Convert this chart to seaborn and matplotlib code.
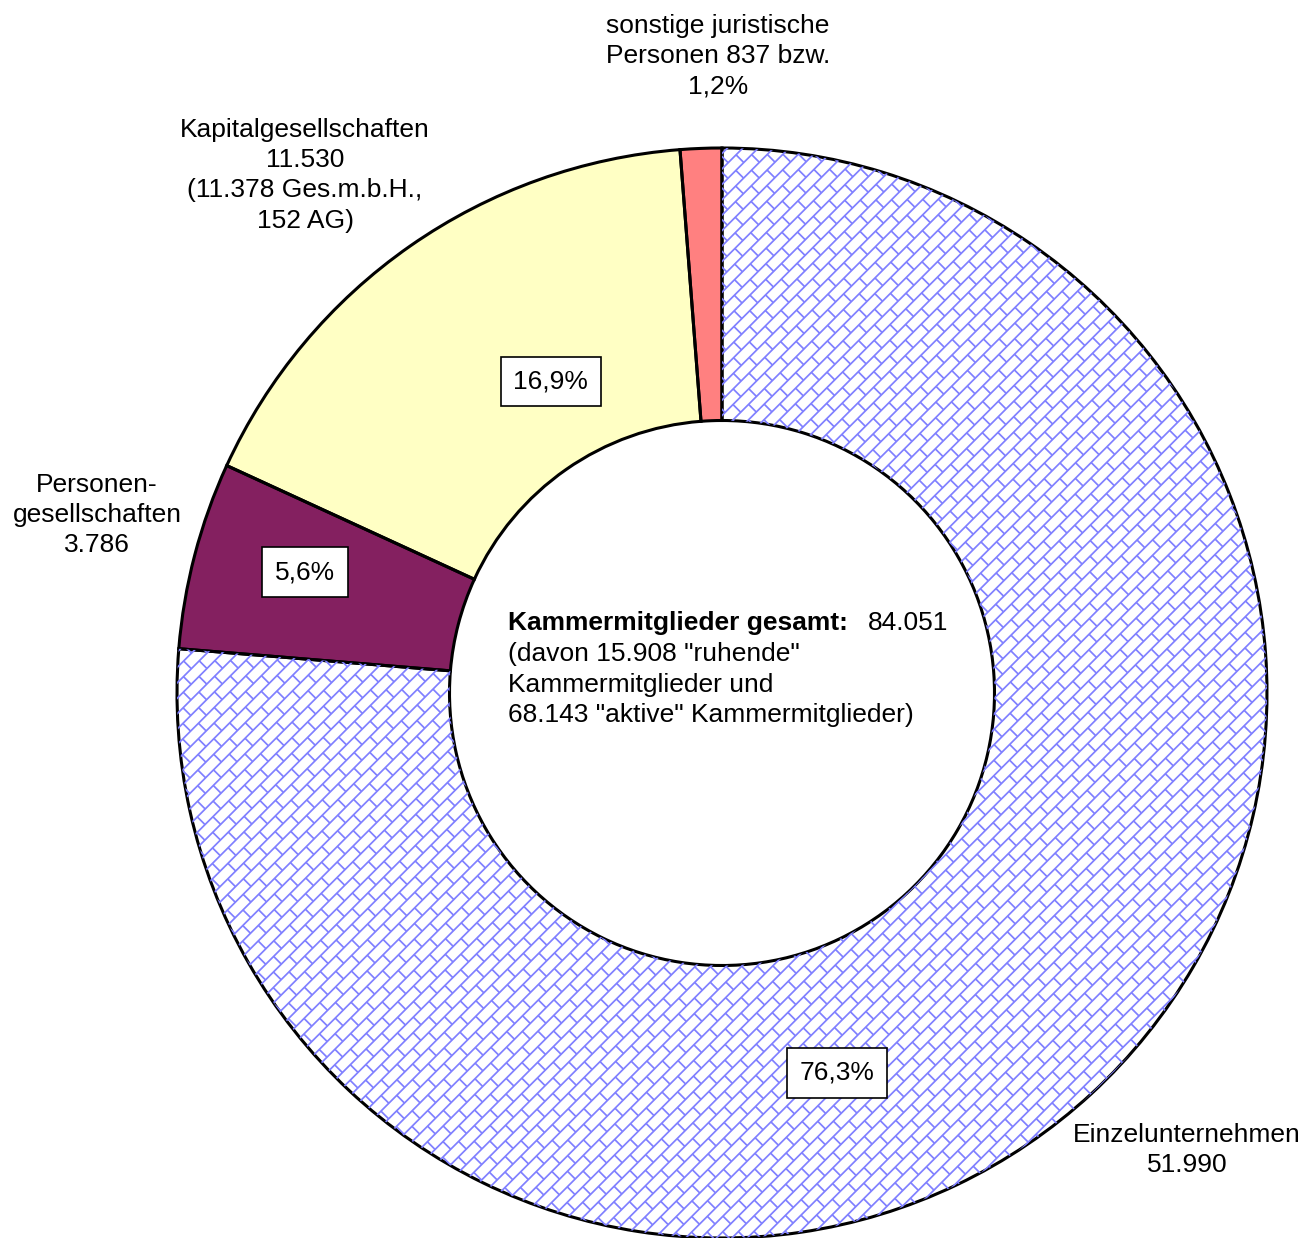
import numpy as np
import matplotlib
matplotlib.use("Agg")
import matplotlib.pyplot as plt
import seaborn as sns
from matplotlib.collections import LineCollection

# data
categories = ["Einzelunternehmen", "Personengesellschaften", "Kapitalgesellschaften", "sonstige juristische Personen"]
members = [51990, 3786, 11530, 837]
pct_labels = ["76,3%", "5,6%", "16,9%", None]
outer_labels = [
    "Einzelunternehmen\n51.990",
    "Personen-\ngesellschaften\n3.786",
    "Kapitalgesellschaften\n11.530\n(11.378 Ges.m.b.H.,\n152 AG)",
    "sonstige juristische\nPersonen 837 bzw.\n1,2%",
]
total_label = "84.051"
center_lines = '(davon 15.908 "ruhende"\nKammermitglieder und\n68.143 "aktive" Kammermitglieder)'

colors = ["white", "#842060", "#FFFFC4", "#FF8080"]

# label positions (in units of the outer radius)
pct_pos = [(0.211, -0.697), (-0.765, 0.222), (-0.314, 0.571), None]
outer_pos = [(0.853, -0.839), (-1.147, 0.327), (-0.765, 0.950), (-0.007, 1.169)]

sns.set_theme(style="white")
plt.rcParams["font.family"] = ["Liberation Sans", "DejaVu Sans"]
plt.rcParams["text.color"] = "black"

fig = plt.figure(figsize=(13.08, 12.38), dpi=100)
ax = fig.add_axes([0, 0, 1, 1])

wedges, _ = ax.pie(members, startangle=90, counterclock=False, colors=colors,
                   radius=1.0, wedgeprops=dict(width=0.5, linewidth=0))

# diagonal brick texture for the Einzelunternehmen wedge
d, L = 0.020, 0.041
segs = []
for k, v in enumerate(np.arange(-1.6, 1.6, d)):
    segs.append([(-1.6, v), (1.6, v)])
    off = (k % 2) * L / 2
    for u in np.arange(-1.6 + off, 1.6, L):
        segs.append([(u, v), (u, v + d)])
segs = np.array(segs)
xs = (segs[..., 0] - segs[..., 1]) / np.sqrt(2)
ys = (segs[..., 0] + segs[..., 1]) / np.sqrt(2)
lc = LineCollection(np.stack([xs, ys], axis=-1), colors="#8080FF", linewidths=1.25)
ax.add_collection(lc)
lc.set_clip_path(wedges[0])

# black outlines on top
ax.pie(members, startangle=90, counterclock=False, radius=1.0,
       wedgeprops=dict(width=0.5, linewidth=2.2, edgecolor="black", fill=False))

fs = 19
ls = 1.33
for lab, pos in zip(pct_labels, pct_pos):
    if lab is None:
        continue
    ax.text(pos[0], pos[1], lab, ha="center", va="center", fontsize=fs, zorder=5,
            bbox=dict(boxstyle="square,pad=0.48", facecolor="white", edgecolor="black", linewidth=1.2))

for lab, pos in zip(outer_labels, outer_pos):
    ax.text(pos[0], pos[1], lab, ha="center", va="center", fontsize=fs, linespacing=ls)

# center text
ax.text(-0.393, 0.150, "Kammermitglieder gesamt:", ha="left", va="top",
        fontsize=fs, fontweight="bold")
ax.text(0.268, 0.150, total_label, ha="left", va="top", fontsize=fs)
ax.text(-0.393, 0.093, center_lines, ha="left", va="top", fontsize=fs, linespacing=ls)

ax.set_xlim(-722 / 545, (1308 - 722) / 545)
ax.set_ylim(-(1238 - 693) / 545, 693 / 545)
ax.set_aspect("equal")
ax.axis("off")

fig.savefig("out.png", dpi=100)
